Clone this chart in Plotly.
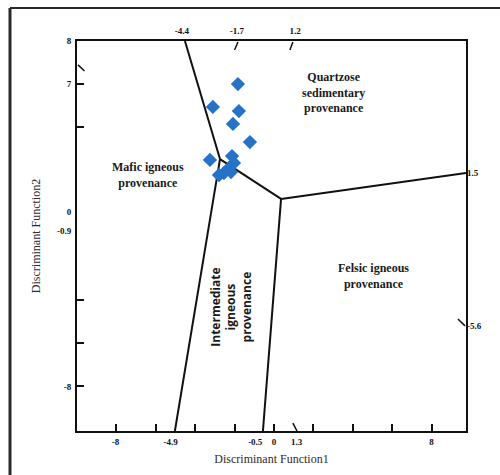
import plotly.graph_objects as go

# ---- data ----
sample_df1 = [-1.83, -3.10, -1.78, -2.08, -1.22, -3.25, -2.13, -2.03, -2.28, -2.54, -2.79, -2.18]
sample_df2 = [6.00, 4.94, 4.75, 4.15, 3.31, 2.48, 2.66, 2.34, 2.11, 1.87, 1.78, 1.92]

# field boundaries (Discriminant Function1, Discriminant Function2)
boundary_upper_x = [-4.52, -2.74]
boundary_upper_y = [8.0, 2.52]
boundary_mid_x = [-2.74, 0.36]
boundary_mid_y = [2.52, 0.67]
boundary_left_x = [-2.74, -5.03]
boundary_left_y = [2.52, -10.1]
boundary_right_x = [0.36, 9.75]
boundary_right_y = [0.67, 1.87]
boundary_low_x = [0.36, -0.56]
boundary_low_y = [0.67, -10.1]

# short fragments near the frame
frag_x = [[-1.83, -2.0], [0.96, 0.81], [-9.95, -9.62], [9.34, 9.70], [0.96, 1.17]]
frag_y = [[7.95, 7.58], [7.95, 7.58], [6.89, 6.61], [-4.90, -5.22], [-9.73, -10.1]]

# tick labels
bottom_tick_pos = [-8.05, -5.25, -0.95, 0.0, 1.15, 8.0]
bottom_tick_text = ["-8", "-4.9", "-0.5", "0", "1.3", "8"]
top_tick_pos = [-4.67, -1.88, 1.07]
top_tick_text = ["-4.4", "-1.7", "1.2"]
left_tick_pos = [8.0, 6.0, 0.06, -0.8, -8.06]
left_tick_text = ["8", "7", "0", "-0.9", "-8"]
right_tick_pos = [1.87, -5.22]
right_tick_text = ["1.5", "-5.6"]
x_marks = [-8, -6, -4, -2, 0, 2, 4, 6, 8]
y_marks = [6, 4, -4, -6, -8]

XR = [-10.0, 9.75]
YR = [-10.1, 8.0]

fig = go.Figure()

for bx, by in [(boundary_upper_x, boundary_upper_y), (boundary_mid_x, boundary_mid_y),
               (boundary_left_x, boundary_left_y), (boundary_right_x, boundary_right_y),
               (boundary_low_x, boundary_low_y)]:
    fig.add_trace(go.Scatter(x=bx, y=by, mode="lines", line=dict(color="#111", width=2),
                             hoverinfo="skip", showlegend=False, cliponaxis=False))
for fx, fy in zip(frag_x, frag_y):
    fig.add_trace(go.Scatter(x=fx, y=fy, mode="lines", line=dict(color="#111", width=1.5),
                             hoverinfo="skip", showlegend=False, cliponaxis=False))

fig.add_trace(go.Scatter(x=sample_df1, y=sample_df2, mode="markers",
                         marker=dict(symbol="diamond", size=11, color="#2572c8"),
                         showlegend=False))

tickfont = dict(family="Liberation Serif", size=9, color="#111", weight="bold")

fig.update_layout(
    width=500, height=475,
    margin=dict(l=77, r=34, t=41, b=44),
    paper_bgcolor="white", plot_bgcolor="white",
    xaxis=dict(range=XR, showgrid=False, zeroline=False,
               showline=True, linecolor="#111", linewidth=2, mirror=True,
               tickmode="array", tickvals=bottom_tick_pos, ticktext=bottom_tick_text,
               ticks="", tickfont=tickfont, ticklabelstandoff=1,
               minor=dict(tickmode="array", tickvals=x_marks, ticks="inside",
                          ticklen=7, tickwidth=1.5, tickcolor="#111"),
               title=dict(text="Discriminant Function1", standoff=9,
                          font=dict(family="Liberation Serif", size=12, color="#332a2a"))),
    xaxis2=dict(range=XR, overlaying="x", side="top", showgrid=False, zeroline=False,
                showline=False, tickmode="array", tickvals=top_tick_pos,
                ticktext=top_tick_text, ticks="", tickfont=tickfont, ticklabelstandoff=4),
    yaxis=dict(range=YR, showgrid=False, zeroline=False,
               showline=True, linecolor="#111", linewidth=2, mirror=True,
               tickmode="array", tickvals=left_tick_pos, ticktext=left_tick_text,
               ticks="", tickfont=tickfont, ticklabelstandoff=2,
               minor=dict(tickmode="array", tickvals=y_marks, ticks="inside",
                          ticklen=7, tickwidth=1.5, tickcolor="#111"),
               title=dict(text="Discriminant Function2", standoff=14,
                          font=dict(family="Liberation Serif", size=12, color="#332a2a"))),
    yaxis2=dict(range=YR, overlaying="y", side="right", showgrid=False, zeroline=False,
                showline=False, tickmode="array", tickvals=right_tick_pos,
                ticktext=right_tick_text, ticks="", tickfont=tickfont),
)
# invisible trace to activate secondary axes
fig.add_trace(go.Scatter(x=[XR[0]], y=[YR[0]], xaxis="x2", yaxis="y2", mode="markers",
                         marker=dict(opacity=0), hoverinfo="skip", showlegend=False))

lab_font = dict(family="Liberation Serif", size=12, color="#1a1a1a", weight="bold")
fig.add_annotation(x=3.0, y=5.6, text="Quartzose<br>sedimentary<br>provenance",
                   showarrow=False, font=lab_font)
fig.add_annotation(x=-6.4, y=1.8, text="Mafic igneous<br>provenance",
                   showarrow=False, font=lab_font)
fig.add_annotation(x=5.05, y=-2.9, text="Felsic igneous<br>provenance",
                   showarrow=False, font=lab_font)
fig.add_annotation(x=-2.2, y=-4.35, text="Intermediate<br>igneous<br>provenance",
                   textangle=-90, showarrow=False,
                   font=dict(family="Open Sans", size=12, color="#1a1a1a", weight="bold"))

# outer picture frame
fig.add_shape(type="line", xref="paper", yref="paper",
              x0=(10 - 77) / 389, x1=1.2, y0=(431 - 8) / 390, y1=(431 - 8) / 390,
              line=dict(color="#2a2a2a", width=2))
fig.add_shape(type="line", xref="paper", yref="paper",
              x0=(10 - 77) / 389, x1=(10 - 77) / 389, y0=(431 - 8) / 390, y1=-0.2,
              line=dict(color="#2a2a2a", width=3))

fig.write_html("out.html")
